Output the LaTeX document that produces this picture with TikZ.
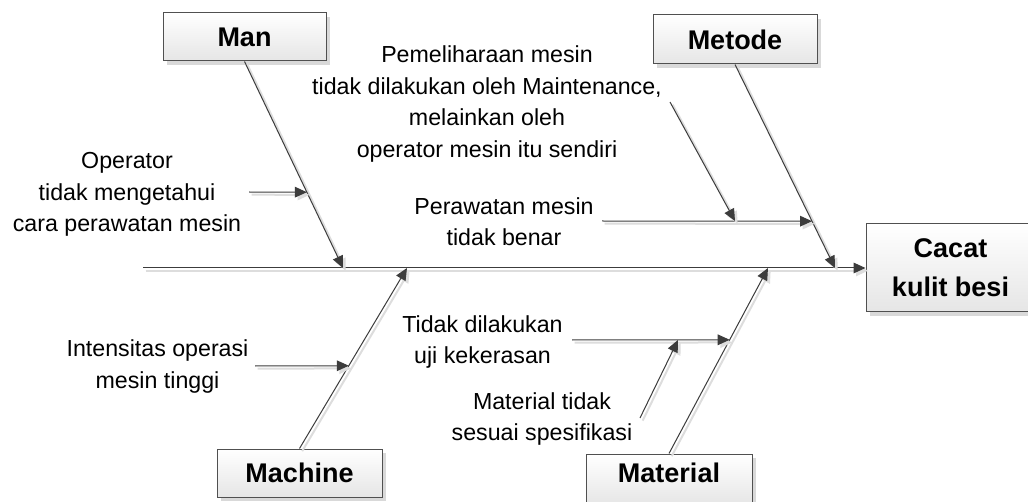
\documentclass[tikz,border=0pt]{standalone}
\usepackage{fontspec}
\setmainfont{Liberation Sans}
\usetikzlibrary{arrows.meta,calc,shadows}
\definecolor{linec}{HTML}{3C3C3C}
\definecolor{shadc}{HTML}{DDDDDD}
\definecolor{boxborder}{HTML}{505050}
\tikzset{
  bone/.style={draw=linec, line width=0.75pt, -{Triangle[length=9pt,width=8pt]},
    preaction={draw=shadc, line width=1.5pt, transform canvas={shift={(2pt,-2pt)}}}},
  catbox/.style={draw=boxborder, line width=0.75pt, top color=white, bottom color=black!10,
    inner sep=0pt, font=\fontsize{20.25}{29.25}\selectfont\bfseries, align=center,
    drop shadow={shadow xshift=3pt, shadow yshift=-3pt, fill=black!15, opacity=1}},
  cause/.style={font=\fontsize{17.4}{23.6}\selectfont, align=center, inner sep=0pt}
}
\begin{document}
\begin{tikzpicture}[x=0.75pt,y=-0.75pt]
\useasboundingbox (0,0) rectangle (1028,502);
\fill[white] (0,0) rectangle (1028,502);
% category boxes
\node[catbox, minimum width=122.25pt, minimum height=36pt] (man) at (244.5,37) {Man};
\node[catbox, minimum width=123pt, minimum height=36.75pt] (metode) at (735,39.5) {Metode};
\node[catbox, minimum width=126.75pt, minimum height=66pt] (cacat) at (950.5,268) {Cacat\\kulit besi};
\node[catbox, minimum width=123.75pt, minimum height=36pt] (machine) at (299.5,473) {Machine};
\node[catbox, minimum width=124.5pt, minimum height=39pt, text height=15pt, text depth=11.5pt] (material) at (669,480) {Material};
% cause texts
\node[cause] (t1) at (127,194.5) {Operator\\tidak mengetahui\\cara perawatan mesin};
\node[cause] (t2) at (487,104) {Pemeliharaan mesin\\tidak dilakukan oleh Maintenance,\\melainkan oleh\\operator mesin itu sendiri};
\node[cause] (t3) at (504,221.5) {Perawatan mesin\\tidak benar};
\node[cause] (t4) at (157.5,366.5) {Intensitas operasi\\mesin tinggi};
\node[cause] (t5) at (482.5,342) {Tidak dilakukan\\uji kekerasan};
\node[cause] (t6) at (542,419) {Material tidak\\sesuai spesifikasi};
% spine
\coordinate (spinestart) at (143,268);
\draw[bone] (spinestart) -- (cacat.west);
% bones
\coordinate (manhit) at (343,268);
\coordinate (methit) at (835,268);
\coordinate (machit) at (407,268);
\coordinate (mathit) at (768,268);
\draw[bone] (man.south) -- (manhit);
\draw[bone] (metode.south) -- (methit);
\draw[bone] (machine.north) -- (machit);
\draw[bone] (material.north) -- (mathit);
% sub causes
\coordinate (mansub) at ($(man.south)!0.633!(manhit)$);
\coordinate (mansubstart) at (249,192);
\draw[bone] (mansubstart) -- (mansub);
\coordinate (metsub) at ($(metode.south)!0.770!(methit)$);
\coordinate (metsubstart) at (602,221);
\draw[bone] (metsubstart) -- (metsub);
\coordinate (metdiagstart) at (670,102);
\coordinate (metdiaghit) at (735,221);
\draw[bone] (metdiagstart) -- (metdiaghit);
\coordinate (macsub) at ($(machine.north)!0.4586!(machit)$);
\coordinate (macsubstart) at (255,366);
\draw[bone] (macsubstart) -- (macsub);
\coordinate (matsub) at ($(material.north)!0.613!(mathit)$);
\coordinate (matsubstart) at (572,340);
\draw[bone] (matsubstart) -- (matsub);
\coordinate (matdiagstart) at (640,418);
\coordinate (matdiaghit) at (678,340);
\draw[bone] (matdiagstart) -- (matdiaghit);
\end{tikzpicture}
\end{document}
